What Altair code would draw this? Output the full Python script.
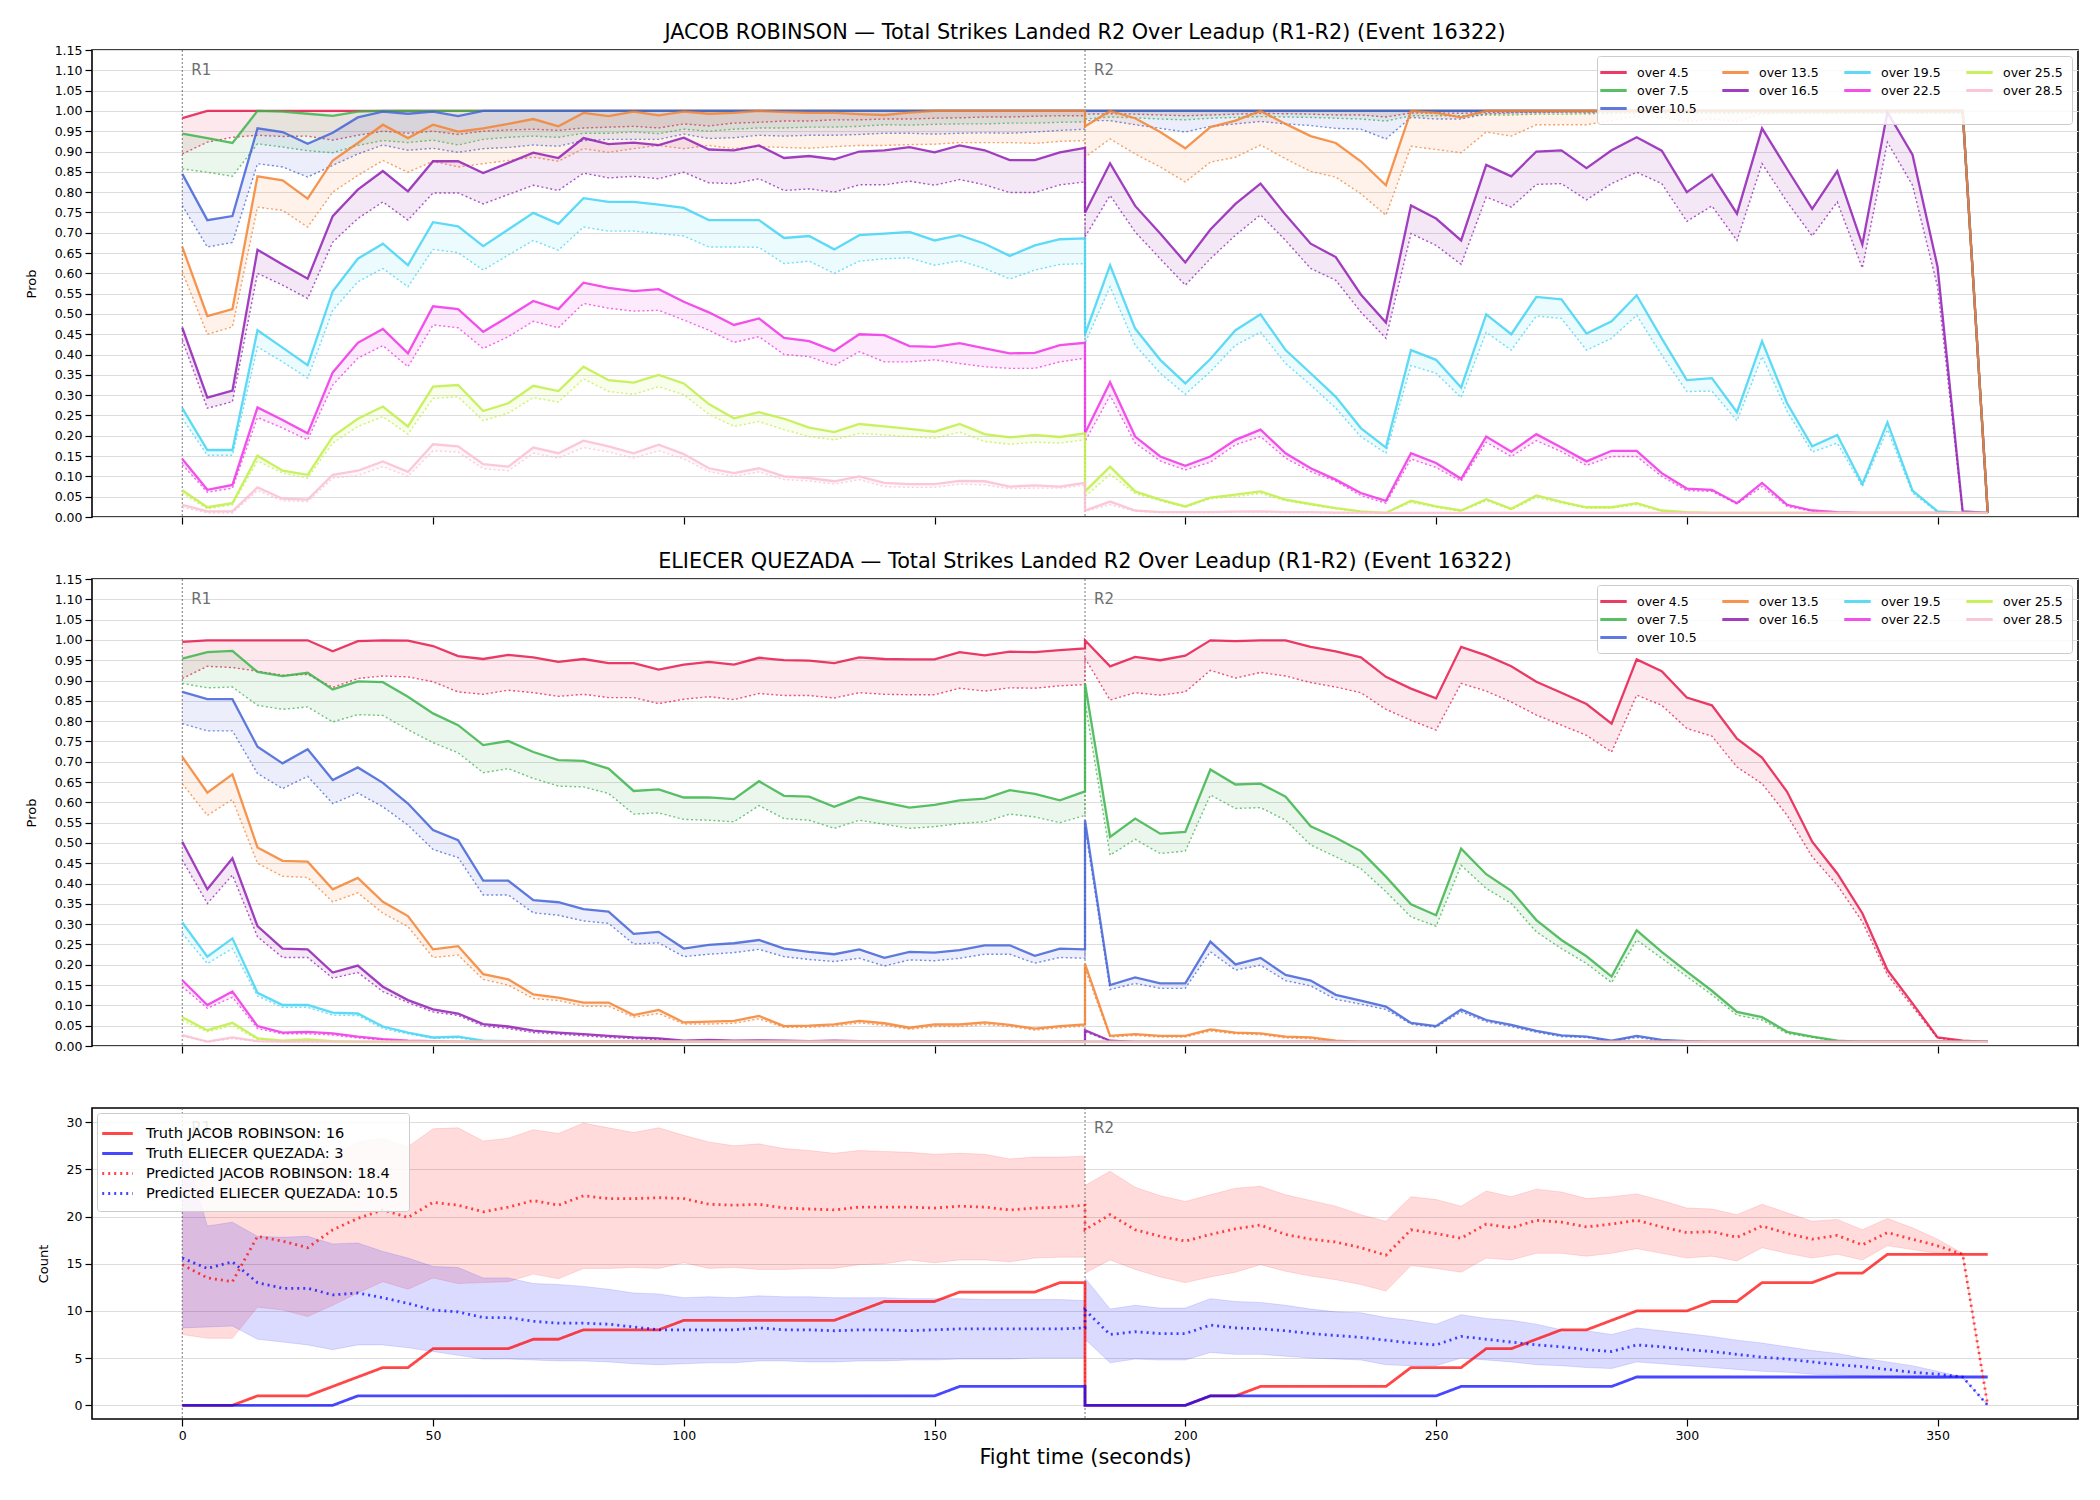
import altair as alt
import pandas as pd

# ---------------- time grid (5-second samples, R1 then R2) ----------------
T_R1 = list(range(0, 181, 5))
T_R2 = list(range(180, 361, 5))
T_ALL = T_R1 + T_R2
ROUND = ["R1"] * len(T_R1) + ["R2"] * len(T_R2)

THRESHOLDS = ["over 4.5", "over 7.5", "over 10.5", "over 13.5", "over 16.5",
              "over 19.5", "over 22.5", "over 25.5", "over 28.5"]
THR_COLORS = ["#e6194b", "#3cb44b", "#4363d8", "#f58231", "#911eb4",
              "#42d4f4", "#f032e6", "#bfef45", "#fabed4"]
# domain order chosen so that the 4-column legend grid reads like matplotlib's
# column-first layout: (4.5, 13.5, 19.5, 25.5 / 7.5, 16.5, 22.5, 28.5 / 10.5)
LEGEND_ORDER = ["over 4.5", "over 25.5", "over 22.5", "over 13.5",
                "over 7.5", "over 28.5", "over 19.5", "over 16.5", "over 10.5"]

X_TICKS = [0, 50, 100, 150, 200, 250, 300, 350]
PROB_TICKS = [round(k * 0.05, 2) for k in range(24)]
COUNT_TICKS = [0, 5, 10, 15, 20, 25, 30]

# ---------------- JACOB ROBINSON probabilities (solid / dotted) ----------------
JR_S45 = [0.982] + [1.0] * 36 + [1.0] * 36 + [0.01]
JR_D45 = [0.894, 0.923, 0.935, 0.940, 0.937, 0.938, 0.928, 0.940, 0.950, 0.945, 0.950, 0.942, 0.950,
          0.953, 0.955, 0.952, 0.958, 0.960, 0.962, 0.958, 0.968, 0.963, 0.970, 0.972, 0.975, 0.975,
          0.978, 0.978, 0.980, 0.980, 0.982, 0.983, 0.985, 0.985, 0.987, 0.988, 0.988,
          0.992, 0.993, 0.992, 0.990, 0.988, 0.990, 0.992, 0.994, 0.993, 0.992, 0.990, 0.990, 0.985,
          0.995, 0.995, 0.994, 0.996, 0.996, 0.997, 0.997, 0.997] + [0.998] * 15 + [0.01]
JR_S75 = [0.944, 0.933, 0.921, 1.0, 0.998, 0.993, 0.988, 0.998] + [1.0] * 29 + [1.0] * 36 + [0.01]
JR_D75 = [0.857, 0.849, 0.839, 0.919, 0.911, 0.902, 0.897, 0.915, 0.927, 0.922, 0.928, 0.916, 0.930,
          0.935, 0.938, 0.935, 0.945, 0.945, 0.948, 0.944, 0.955, 0.950, 0.955, 0.958, 0.958, 0.960,
          0.960, 0.962, 0.966, 0.965, 0.967, 0.968, 0.968, 0.970, 0.970, 0.972, 0.973,
          0.980, 0.985, 0.983, 0.980, 0.978, 0.982, 0.984, 0.986, 0.985, 0.984, 0.982, 0.980, 0.975,
          0.988, 0.988, 0.988, 0.990, 0.990, 0.992, 0.992, 0.993, 0.994] + [0.995] * 14 + [0.01]
JR_S105 = [0.845, 0.731, 0.741, 0.957, 0.948, 0.919, 0.946, 0.984, 0.998, 0.993, 0.998, 0.987] \
    + [1.0] * 25 + [1.0] * 36 + [0.01]
JR_D105 = [0.767, 0.665, 0.676, 0.870, 0.862, 0.837, 0.866, 0.894, 0.916, 0.903, 0.908, 0.898, 0.907,
           0.910, 0.916, 0.913, 0.927, 0.930, 0.930, 0.930, 0.943, 0.932, 0.934, 0.940, 0.938, 0.940,
           0.940, 0.942, 0.945, 0.945, 0.943, 0.945, 0.946, 0.945, 0.948, 0.952, 0.955,
           0.976, 0.976, 0.966, 0.957, 0.948, 0.962, 0.968, 0.974, 0.968, 0.964, 0.957, 0.955, 0.931,
           0.984, 0.980, 0.980, 0.993, 0.995, 0.996, 0.997, 0.997] + [0.998] * 15 + [0.01]
JR_S135 = [0.665, 0.495, 0.512, 0.839, 0.829, 0.784, 0.878, 0.921, 0.966, 0.933, 0.966, 0.949, 0.957,
           0.968, 0.980, 0.962, 0.995, 0.987, 0.998, 0.989, 0.998, 0.993, 0.995, 1.0, 0.997, 0.995,
           0.995, 0.992, 0.990, 0.996] + [1.0] * 7 \
    + [0.962, 1.0, 0.982, 0.948, 0.908, 0.960, 0.976, 1.0, 0.968, 0.938, 0.921, 0.876, 0.817,
       1.0, 0.995, 0.984, 1.0] + [1.0] * 19 + [0.01]
JR_D135 = [0.604, 0.450, 0.468, 0.763, 0.755, 0.714, 0.800, 0.841, 0.878, 0.849, 0.876, 0.862, 0.870,
           0.878, 0.886, 0.876, 0.907, 0.898, 0.907, 0.915, 0.907, 0.915, 0.907, 0.912, 0.910, 0.908,
           0.912, 0.915, 0.915, 0.917, 0.918, 0.922, 0.922, 0.922, 0.920, 0.925, 0.927,
           0.886, 0.931, 0.894, 0.862, 0.825, 0.874, 0.886, 0.916, 0.882, 0.851, 0.837, 0.796, 0.743,
           0.913, 0.905, 0.897, 0.948, 0.938, 0.966, 0.966, 0.966, 0.976, 0.987, 0.984, 0.974, 0.980,
           0.974, 0.993, 0.995, 0.995, 0.995, 0.996, 0.996, 0.996, 0.996, 0.996, 0.01]
JR_S165 = [0.466, 0.294, 0.311, 0.658, 0.622, 0.587, 0.741, 0.806, 0.852, 0.802, 0.876, 0.876, 0.847,
           0.872, 0.897, 0.884, 0.933, 0.918, 0.922, 0.916, 0.934, 0.905, 0.903, 0.915, 0.884, 0.889,
           0.881, 0.900, 0.903, 0.911, 0.898, 0.915, 0.903, 0.879, 0.879, 0.898, 0.909,
           0.749, 0.871, 0.766, 0.698, 0.627, 0.708, 0.771, 0.821, 0.744, 0.673, 0.640, 0.548, 0.479,
           0.767, 0.735, 0.681, 0.867, 0.839, 0.900, 0.903, 0.859, 0.903, 0.935, 0.902, 0.800, 0.843,
           0.747, 0.957, 0.857, 0.759, 0.852, 0.671, 0.997, 0.892, 0.616, 0.014, 0.01]
JR_D165 = [0.436, 0.268, 0.284, 0.600, 0.571, 0.538, 0.677, 0.735, 0.776, 0.731, 0.798, 0.798, 0.771,
           0.794, 0.817, 0.804, 0.847, 0.835, 0.839, 0.833, 0.849, 0.823, 0.821, 0.833, 0.804, 0.808,
           0.800, 0.818, 0.818, 0.827, 0.817, 0.831, 0.818, 0.799, 0.799, 0.818, 0.825,
           0.690, 0.792, 0.702, 0.636, 0.571, 0.636, 0.694, 0.744, 0.681, 0.612, 0.583, 0.505, 0.440,
           0.698, 0.669, 0.622, 0.788, 0.763, 0.819, 0.821, 0.781, 0.821, 0.849, 0.821, 0.728, 0.766,
           0.681, 0.870, 0.776, 0.692, 0.776, 0.613, 0.923, 0.817, 0.567, 0.012, 0.01]
JR_S195 = [0.268, 0.165, 0.165, 0.460, 0.417, 0.374, 0.556, 0.636, 0.673, 0.620, 0.726, 0.716, 0.667,
           0.708, 0.749, 0.722, 0.785, 0.776, 0.776, 0.769, 0.761, 0.731, 0.731, 0.731, 0.687, 0.692,
           0.659, 0.694, 0.698, 0.702, 0.681, 0.694, 0.673, 0.643, 0.669, 0.684, 0.686,
           0.450, 0.620, 0.464, 0.387, 0.329, 0.389, 0.460, 0.499, 0.411, 0.354, 0.296, 0.219, 0.171,
           0.411, 0.387, 0.319, 0.499, 0.450, 0.542, 0.536, 0.452, 0.482, 0.546, 0.440, 0.337, 0.342,
           0.258, 0.433, 0.280, 0.174, 0.202, 0.081, 0.233, 0.065, 0.014, 0.01, 0.01]
JR_D195 = [0.243, 0.152, 0.152, 0.419, 0.382, 0.342, 0.509, 0.579, 0.612, 0.567, 0.659, 0.651, 0.608,
           0.645, 0.681, 0.657, 0.714, 0.704, 0.704, 0.698, 0.692, 0.665, 0.665, 0.664, 0.624, 0.630,
           0.600, 0.630, 0.636, 0.638, 0.620, 0.631, 0.612, 0.586, 0.608, 0.622, 0.624,
           0.428, 0.567, 0.423, 0.354, 0.302, 0.358, 0.423, 0.455, 0.378, 0.325, 0.268, 0.198, 0.157,
           0.373, 0.354, 0.294, 0.455, 0.411, 0.495, 0.489, 0.411, 0.440, 0.497, 0.399, 0.309, 0.310,
           0.237, 0.395, 0.260, 0.160, 0.182, 0.075, 0.215, 0.059, 0.012, 0.01, 0.01]
JR_S225 = [0.143, 0.067, 0.079, 0.270, 0.239, 0.206, 0.356, 0.429, 0.463, 0.403, 0.519, 0.512, 0.456,
           0.493, 0.532, 0.512, 0.577, 0.564, 0.556, 0.561, 0.530, 0.504, 0.473, 0.489, 0.441, 0.433,
           0.409, 0.450, 0.448, 0.421, 0.419, 0.428, 0.415, 0.403, 0.404, 0.423, 0.429,
           0.206, 0.332, 0.198, 0.149, 0.126, 0.149, 0.190, 0.215, 0.157, 0.120, 0.092, 0.059, 0.040,
           0.157, 0.133, 0.094, 0.198, 0.161, 0.204, 0.171, 0.137, 0.163, 0.163, 0.108, 0.070, 0.067,
           0.034, 0.084, 0.030, 0.016, 0.012, 0.01, 0.01, 0.01, 0.01, 0.01, 0.01]
JR_D225 = [0.129, 0.061, 0.071, 0.245, 0.219, 0.190, 0.325, 0.391, 0.422, 0.370, 0.473, 0.466, 0.415,
           0.444, 0.482, 0.466, 0.526, 0.514, 0.507, 0.509, 0.485, 0.460, 0.430, 0.444, 0.400, 0.395,
           0.373, 0.407, 0.382, 0.382, 0.387, 0.378, 0.370, 0.366, 0.366, 0.382, 0.391,
           0.186, 0.299, 0.182, 0.138, 0.116, 0.135, 0.178, 0.198, 0.145, 0.112, 0.088, 0.053, 0.034,
           0.143, 0.122, 0.088, 0.184, 0.149, 0.188, 0.161, 0.127, 0.149, 0.149, 0.100, 0.065, 0.063,
           0.032, 0.075, 0.026, 0.014, 0.011, 0.01, 0.01, 0.01, 0.01, 0.01, 0.01]
JR_S255 = [0.066, 0.024, 0.034, 0.151, 0.114, 0.104, 0.198, 0.242, 0.272, 0.223, 0.321, 0.325, 0.261,
           0.280, 0.323, 0.310, 0.370, 0.337, 0.331, 0.350, 0.329, 0.278, 0.243, 0.258, 0.242, 0.220,
           0.209, 0.229, 0.223, 0.217, 0.210, 0.229, 0.204, 0.196, 0.202, 0.197, 0.206,
           0.063, 0.124, 0.063, 0.043, 0.026, 0.048, 0.055, 0.063, 0.043, 0.032, 0.022, 0.014, 0.010,
           0.040, 0.026, 0.016, 0.044, 0.020, 0.053, 0.037, 0.024, 0.024, 0.034, 0.016, 0.012] + [0.01] * 12
JR_D255 = [0.059, 0.020, 0.030, 0.138, 0.108, 0.096, 0.182, 0.223, 0.247, 0.204, 0.292, 0.296, 0.237,
           0.256, 0.294, 0.283, 0.340, 0.309, 0.302, 0.321, 0.301, 0.253, 0.223, 0.235, 0.215, 0.198,
           0.190, 0.206, 0.202, 0.198, 0.194, 0.209, 0.186, 0.179, 0.184, 0.182, 0.190,
           0.050, 0.105, 0.058, 0.040, 0.024, 0.045, 0.050, 0.058, 0.040, 0.030, 0.020, 0.013, 0.010,
           0.036, 0.024, 0.014, 0.040, 0.018, 0.048, 0.034, 0.022, 0.022, 0.030, 0.014, 0.011] + [0.01] * 12
JR_S285 = [0.030, 0.014, 0.014, 0.073, 0.045, 0.043, 0.104, 0.114, 0.137, 0.111, 0.179, 0.174, 0.130,
           0.124, 0.171, 0.157, 0.188, 0.174, 0.157, 0.178, 0.155, 0.120, 0.108, 0.120, 0.100, 0.096,
           0.088, 0.100, 0.084, 0.081, 0.081, 0.089, 0.088, 0.075, 0.078, 0.075, 0.084,
           0.016, 0.038, 0.016, 0.012, 0.012, 0.012, 0.013, 0.014, 0.012, 0.012, 0.011, 0.011] + [0.01] * 25
JR_D285 = [0.024, 0.010, 0.010, 0.065, 0.040, 0.038, 0.096, 0.102, 0.124, 0.100, 0.163, 0.160, 0.119,
           0.114, 0.157, 0.145, 0.171, 0.160, 0.145, 0.163, 0.143, 0.112, 0.100, 0.111, 0.092, 0.089,
           0.081, 0.092, 0.075, 0.073, 0.073, 0.081, 0.079, 0.070, 0.071, 0.071, 0.078,
           0.014, 0.030, 0.014, 0.011, 0.011, 0.011, 0.012, 0.012, 0.011, 0.011, 0.010, 0.010] + [0.01] * 25

# ---------------- ELIECER QUEZADA probabilities (solid / dotted) ----------------
EQ_S45 = [0.995, 0.999, 0.999, 0.999, 0.999, 0.999, 0.972, 0.997, 0.999, 0.998, 0.985, 0.960, 0.953,
          0.963, 0.957, 0.946, 0.953, 0.943, 0.943, 0.927, 0.939, 0.946, 0.939, 0.956, 0.950, 0.949,
          0.943, 0.957, 0.953, 0.952, 0.952, 0.970, 0.962, 0.971, 0.970, 0.975, 0.979,
          0.999, 0.935, 0.958, 0.950, 0.961, 0.999, 0.997, 0.999, 0.999, 0.983, 0.972, 0.957, 0.909,
          0.880, 0.856, 0.983, 0.962, 0.935, 0.897, 0.870, 0.842, 0.794, 0.952, 0.923, 0.858, 0.839,
          0.757, 0.710, 0.626, 0.503, 0.425, 0.327, 0.187, 0.105, 0.021, 0.013, 0.01]
EQ_D45 = [0.905, 0.935, 0.932, 0.923, 0.913, 0.915, 0.883, 0.905, 0.911, 0.909, 0.897, 0.872, 0.866,
          0.876, 0.870, 0.861, 0.866, 0.858, 0.858, 0.843, 0.854, 0.860, 0.853, 0.868, 0.863, 0.863,
          0.857, 0.870, 0.866, 0.865, 0.865, 0.881, 0.874, 0.882, 0.881, 0.887, 0.890,
          0.955, 0.852, 0.870, 0.864, 0.872, 0.925, 0.906, 0.920, 0.911, 0.895, 0.884, 0.870, 0.829,
          0.802, 0.778, 0.893, 0.874, 0.847, 0.815, 0.790, 0.765, 0.724, 0.864, 0.839, 0.782, 0.763,
          0.687, 0.646, 0.568, 0.466, 0.396, 0.306, 0.175, 0.097, 0.019, 0.012, 0.01]
EQ_S75 = [0.954, 0.970, 0.973, 0.921, 0.911, 0.919, 0.878, 0.898, 0.896, 0.860, 0.819, 0.790, 0.741,
          0.751, 0.724, 0.704, 0.702, 0.683, 0.628, 0.632, 0.612, 0.612, 0.608, 0.652, 0.616, 0.614,
          0.589, 0.613, 0.600, 0.587, 0.594, 0.605, 0.609, 0.630, 0.621, 0.605, 0.627,
          0.893, 0.515, 0.560, 0.523, 0.527, 0.681, 0.644, 0.646, 0.614, 0.541, 0.513, 0.480, 0.417,
          0.349, 0.322, 0.486, 0.423, 0.382, 0.310, 0.261, 0.221, 0.171, 0.285, 0.232, 0.183, 0.136,
          0.084, 0.071, 0.035, 0.023, 0.013, 0.01, 0.01, 0.01, 0.01, 0.01, 0.01]
EQ_D75 = [0.893, 0.882, 0.884, 0.839, 0.829, 0.835, 0.798, 0.816, 0.814, 0.779, 0.747, 0.722, 0.673,
          0.683, 0.659, 0.640, 0.638, 0.622, 0.571, 0.574, 0.558, 0.556, 0.552, 0.592, 0.560, 0.556,
          0.536, 0.556, 0.546, 0.536, 0.540, 0.548, 0.552, 0.571, 0.564, 0.550, 0.568,
          0.847, 0.470, 0.509, 0.474, 0.480, 0.618, 0.585, 0.587, 0.556, 0.495, 0.466, 0.437, 0.380,
          0.318, 0.295, 0.445, 0.388, 0.351, 0.281, 0.240, 0.203, 0.156, 0.261, 0.216, 0.171, 0.126,
          0.076, 0.064, 0.031, 0.021, 0.012, 0.01, 0.01, 0.01, 0.01, 0.01, 0.01]
EQ_S105 = [0.872, 0.854, 0.854, 0.737, 0.696, 0.731, 0.655, 0.686, 0.648, 0.597, 0.532, 0.507, 0.407,
           0.407, 0.359, 0.354, 0.337, 0.331, 0.276, 0.281, 0.240, 0.249, 0.253, 0.261, 0.240, 0.232,
           0.226, 0.238, 0.217, 0.232, 0.230, 0.236, 0.248, 0.248, 0.222, 0.240, 0.238,
           0.556, 0.150, 0.169, 0.154, 0.154, 0.257, 0.201, 0.217, 0.175, 0.161, 0.126, 0.112, 0.097,
           0.057, 0.049, 0.090, 0.064, 0.052, 0.037, 0.026, 0.023, 0.013, 0.025, 0.015, 0.012] + [0.01] * 12
EQ_D105 = [0.794, 0.776, 0.776, 0.671, 0.634, 0.664, 0.597, 0.623, 0.589, 0.544, 0.484, 0.464, 0.372,
           0.372, 0.328, 0.322, 0.308, 0.302, 0.251, 0.254, 0.220, 0.226, 0.230, 0.238, 0.220, 0.213,
           0.208, 0.216, 0.197, 0.212, 0.210, 0.216, 0.226, 0.226, 0.204, 0.218, 0.216,
           0.540, 0.139, 0.154, 0.142, 0.142, 0.232, 0.187, 0.199, 0.161, 0.148, 0.115, 0.103, 0.090,
           0.054, 0.046, 0.084, 0.060, 0.048, 0.034, 0.023, 0.021, 0.012, 0.021, 0.013, 0.011] + [0.01] * 12
EQ_S135 = [0.712, 0.624, 0.669, 0.489, 0.456, 0.454, 0.386, 0.414, 0.355, 0.320, 0.238, 0.246, 0.177,
           0.164, 0.127, 0.119, 0.107, 0.107, 0.076, 0.089, 0.058, 0.060, 0.062, 0.074, 0.049, 0.050,
           0.053, 0.062, 0.056, 0.045, 0.053, 0.053, 0.058, 0.052, 0.043, 0.049, 0.053,
           0.202, 0.025, 0.029, 0.025, 0.025, 0.041, 0.033, 0.031, 0.023, 0.021, 0.013] + [0.01] * 26
EQ_D135 = [0.646, 0.568, 0.607, 0.450, 0.418, 0.415, 0.355, 0.377, 0.327, 0.294, 0.218, 0.224, 0.164,
           0.150, 0.117, 0.112, 0.098, 0.098, 0.071, 0.080, 0.054, 0.054, 0.056, 0.067, 0.046, 0.046,
           0.049, 0.057, 0.051, 0.041, 0.048, 0.048, 0.053, 0.048, 0.039, 0.045, 0.049,
           0.190, 0.022, 0.026, 0.022, 0.022, 0.037, 0.030, 0.028, 0.020, 0.018, 0.012] + [0.01] * 26
EQ_S165 = [0.503, 0.386, 0.462, 0.295, 0.240, 0.238, 0.181, 0.198, 0.146, 0.113, 0.090, 0.080, 0.054,
           0.048, 0.038, 0.033, 0.029, 0.025, 0.021, 0.019, 0.013, 0.015, 0.013, 0.014, 0.013, 0.012,
           0.013, 0.012, 0.012, 0.012, 0.012, 0.012, 0.012, 0.012, 0.011, 0.011, 0.012,
           0.039, 0.013] + [0.01] * 35
EQ_D165 = [0.458, 0.351, 0.421, 0.269, 0.218, 0.218, 0.167, 0.181, 0.134, 0.107, 0.084, 0.075, 0.049,
           0.043, 0.033, 0.029, 0.025, 0.021, 0.018, 0.016, 0.012, 0.013, 0.012, 0.012] + [0.011] * 13 \
    + [0.035, 0.012] + [0.01] * 35
EQ_S195 = [0.304, 0.220, 0.265, 0.131, 0.101, 0.101, 0.082, 0.080, 0.048, 0.033, 0.021, 0.023, 0.013,
           0.012, 0.012] + [0.011] * 22 + [0.01] * 37
EQ_D195 = [0.277, 0.203, 0.240, 0.123, 0.095, 0.095, 0.076, 0.075, 0.043, 0.030, 0.019, 0.020,
           0.012] + [0.011] * 24 + [0.01] * 37
EQ_S225 = [0.162, 0.101, 0.134, 0.049, 0.033, 0.035, 0.031, 0.023, 0.017, 0.013, 0.012] + [0.011] * 26 + [0.01] * 37
EQ_D225 = [0.146, 0.093, 0.120, 0.043, 0.030, 0.030, 0.027, 0.020, 0.015, 0.012] + [0.011] * 27 + [0.01] * 37
EQ_S255 = [0.071, 0.039, 0.057, 0.019, 0.013, 0.016, 0.012] + [0.011] * 30 + [0.01] * 37
EQ_D255 = [0.063, 0.035, 0.050, 0.016, 0.012, 0.013, 0.011] + [0.011] * 30 + [0.01] * 37
EQ_S285 = [0.027, 0.011, 0.021, 0.012] + [0.011] * 33 + [0.01] * 37
EQ_D285 = [0.024, 0.010, 0.018, 0.011] + [0.010] * 33 + [0.01] * 37

# ---------------- counts panel ----------------
TRUTH_JR = [0, 0, 0, 1, 1, 1, 2, 3, 4, 4, 6, 6, 6, 6, 7, 7, 8, 8, 8, 8] + [9] * 7 \
    + [10, 11, 11, 11, 12, 12, 12, 12, 13, 13] \
    + [0, 0, 0, 0, 0, 1, 1, 2, 2, 2, 2, 2, 2, 4, 4, 4, 6, 6, 7, 8, 8, 9, 10, 10, 10, 11, 11,
       13, 13, 13, 14, 14, 16, 16, 16, 16, 16]
TRUTH_EQ = [0] * 7 + [1] * 24 + [2] * 6 + [0] * 5 + [1] * 10 + [2] * 7 + [3] * 15
PRED_JR = [14.9, 13.5, 13.1, 17.9, 17.4, 16.7, 18.6, 19.8, 20.7, 19.9, 21.5, 21.2, 20.5, 21.0, 21.7,
           21.2, 22.2, 21.9, 21.9, 22.0, 21.9, 21.3, 21.2, 21.3, 20.9, 20.8, 20.7, 21.0, 21.0, 21.0,
           20.9, 21.1, 21.0, 20.7, 20.9, 21.0, 21.2,
           18.6, 20.2, 18.6, 17.9, 17.4, 18.1, 18.7, 19.1, 18.1, 17.6, 17.3, 16.7, 15.9, 18.6, 18.2,
           17.7, 19.2, 18.8, 19.6, 19.4, 18.9, 19.2, 19.6, 18.9, 18.3, 18.4, 17.8, 19.0, 18.2, 17.6,
           18.0, 17.0, 18.3, 17.6, 16.9, 16.0, 0.0]
JR_HI = [24.0, 23.9, 24.0, 25.3, 24.9, 24.8, 26.5, 27.9, 28.3, 27.4, 29.3, 29.4, 28.0, 28.3, 29.2,
         28.8, 29.9, 29.4, 28.9, 29.4, 28.6, 27.9, 27.5, 27.7, 27.2, 27.0, 26.7, 27.0, 26.9, 26.8,
         26.6, 26.7, 26.6, 26.1, 26.3, 26.3, 26.4,
         23.3, 24.8, 23.1, 22.2, 21.6, 22.3, 23.0, 23.2, 22.3, 21.7, 21.1, 20.2, 19.5, 22.1, 21.8,
         21.1, 22.7, 22.1, 22.9, 22.6, 21.9, 22.1, 22.4, 21.7, 20.9, 20.8, 20.2, 21.3, 20.4, 19.5,
         19.7, 18.6, 19.8, 18.8, 17.6, 16.1, 0.0]
JR_LO = [7.5, 7.1, 7.1, 10.4, 10.1, 9.4, 10.6, 11.9, 13.1, 12.3, 13.5, 12.9, 13.0, 13.1, 13.9,
         13.4, 14.5, 14.5, 14.6, 14.5, 15.1, 14.5, 14.6, 14.4, 14.4, 14.5, 14.5, 14.9, 15.0, 15.4,
         15.1, 15.4, 15.4, 15.2, 15.6, 15.7, 15.7,
         14.0, 15.4, 14.4, 13.6, 13.0, 13.6, 14.1, 14.9, 14.2, 13.7, 13.3, 12.8, 12.1, 14.8, 14.5,
         14.1, 15.6, 15.4, 16.1, 16.1, 15.8, 16.1, 16.6, 16.1, 15.6, 15.8, 15.3, 16.7, 16.1, 15.6,
         16.0, 15.4, 16.9, 16.5, 16.1, 16.0, 0.0]
PRED_EQ = [15.6, 14.5, 15.2, 13.0, 12.4, 12.4, 11.7, 11.9, 11.4, 10.8, 10.1, 9.9, 9.3, 9.3, 8.9,
           8.7, 8.7, 8.6, 8.3, 8.0, 8.0, 8.0, 8.0, 8.2, 8.0, 8.0, 7.9, 8.0, 8.0, 7.9, 8.0, 8.1, 8.1,
           8.1, 8.1, 8.1, 8.2,
           10.1, 7.5, 7.8, 7.6, 7.6, 8.5, 8.2, 8.1, 7.9, 7.6, 7.4, 7.2, 6.9, 6.6, 6.4, 7.3, 7.0, 6.7,
           6.4, 6.2, 5.9, 5.7, 6.4, 6.2, 5.9, 5.7, 5.4, 5.1, 4.9, 4.6, 4.3, 4.1, 3.8, 3.5, 3.3, 3.0, 0.0]
EQ_HI = [28.0, 19.0, 19.4, 17.9, 17.8, 17.9, 17.1, 17.2, 16.3, 15.6, 14.7, 14.6, 13.5, 13.5, 12.9,
         12.8, 12.6, 12.3, 11.9, 11.8, 11.4, 11.5, 11.4, 11.6, 11.5, 11.5, 11.4, 11.4, 11.4, 11.3,
         11.3, 11.3, 11.2, 11.2, 11.2, 11.2, 11.1,
         13.5, 10.2, 10.6, 10.3, 10.3, 11.3, 11.0, 10.9, 10.6, 10.2, 9.9, 9.8, 9.3, 9.0, 8.6, 9.6,
         9.2, 9.0, 8.6, 8.0, 7.9, 7.5, 8.2, 7.9, 7.6, 7.3, 6.9, 6.6, 6.2, 5.8, 5.5, 5.0, 4.6, 4.2,
         3.6, 3.0, 0.0]
EQ_LO = [8.2, 8.3, 8.4, 7.0, 6.7, 6.4, 5.9, 6.4, 6.4, 6.1, 5.7, 5.3, 4.9, 4.9, 4.8, 4.7, 4.7, 4.6,
         4.4, 4.3, 4.4, 4.5, 4.5, 4.7, 4.7, 4.6, 4.6, 4.7, 4.7, 4.8, 4.8, 4.9, 4.9, 4.9, 5.0, 5.0, 5.0,
         7.0, 4.5, 4.9, 4.8, 4.8, 5.6, 5.4, 5.4, 5.2, 5.0, 4.9, 4.8, 4.3, 4.2, 4.2, 5.0, 4.8, 4.6,
         4.3, 4.2, 4.0, 3.9, 4.6, 4.4, 4.2, 4.0, 3.8, 3.6, 3.5, 3.3, 3.2, 3.1, 3.0, 2.9, 2.85, 2.9, 0.0]

SERIES = ["Truth JACOB ROBINSON: 16", "Truth ELIECER QUEZADA: 3",
          "Predicted JACOB ROBINSON: 18.4", "Predicted ELIECER QUEZADA: 10.5"]

FONT = "DejaVu Sans"
PLOT_W = 1986
LEG_COLORS = [THR_COLORS[THRESHOLDS.index(t)] for t in LEGEND_ORDER]
XS = alt.Scale(domain=[-18, 378], nice=False, zero=False)
MARKS_DF = pd.DataFrame({"t": [0, 180], "lab": ["R1", "R2"]})
IND = "independent"


def round_marks(x_axis):
    rule = alt.Chart(MARKS_DF).mark_rule(color="#555555", strokeDash=[2, 2], strokeWidth=1,
                                         opacity=0.8).encode(x=alt.X("t:Q", scale=XS, axis=x_axis))
    text = alt.Chart(MARKS_DF).mark_text(align="left", baseline="middle", dx=9, fontSize=15,
                                         font=FONT, color="#555555", opacity=0.85).encode(
        x=alt.X("t:Q", scale=XS, axis=x_axis), y=alt.value(20), text="lab:N")
    return rule, text


def prob_panel(solid_lists, dotted_lists, title):
    rows = []
    for thr, s, d in zip(THRESHOLDS, solid_lists, dotted_lists):
        assert len(s) == 74 and len(d) == 74, (title, thr, len(s), len(d))
        for i, (t, r) in enumerate(zip(T_ALL, ROUND)):
            rows.append({"t": t, "i": i, "rnd": r, "thr": thr, "solid": s[i], "dotted": d[i]})
    df = pd.DataFrame(rows)
    xax = alt.Axis(values=X_TICKS, labels=False, title=None, grid=False)
    ys = alt.Scale(domain=[0, 1.15], nice=False, zero=False)
    yax = alt.Axis(values=PROB_TICKS, format=".2f", title="Prob", grid=True)
    x = alt.X("t:Q", scale=XS, axis=xax)
    leg = alt.Legend(title=None, orient="top-right", columns=4, symbolType="M-2.2,0L2.2,0",
                     symbolSize=144, symbolStrokeWidth=3, labelOffset=16,
                     labelFontSize=12.5, labelFont=FONT, labelColor="black",
                     fillColor="rgba(255,255,255,0.85)", strokeColor="#cccccc", padding=9,
                     cornerRadius=3, rowPadding=4, columnPadding=19, offset=6, labelLimit=200)
    cscale = alt.Scale(domain=LEGEND_ORDER, range=LEG_COLORS)
    under = []
    for thr, col in zip(THRESHOLDS, THR_COLORS):
        sub = df[df["thr"] == thr]
        under.append(alt.Chart(sub).mark_area(color=col, opacity=0.1).encode(
            x=x, y=alt.Y("solid:Q", scale=ys, axis=yax), y2="dotted:Q", detail="rnd:N"))
        under.append(alt.Chart(sub).mark_line(color=col, strokeWidth=1.4, opacity=0.75,
                                              strokeDash=[2, 2.5]).encode(
            x=x, y=alt.Y("dotted:Q", scale=ys, axis=yax), order="i:Q"))
    solid = alt.Chart(df).mark_line(strokeWidth=2.3, opacity=0.85).encode(
        x=x, y=alt.Y("solid:Q", scale=ys, axis=yax),
        color=alt.Color("thr:N", scale=cscale, legend=leg), detail="thr:N", order="i:Q")
    rule, text = round_marks(xax)
    return alt.layer(rule, *under, solid, text).properties(
        width=PLOT_W, height=467,
        title=alt.TitleParams(text=title, fontSize=20.8, font=FONT, fontWeight="normal",
                              anchor="middle", offset=0, color="black"))


def count_panel():
    band_rows, line_rows = [], []
    for who, lo, hi in (("JR", JR_LO, JR_HI), ("EQ", EQ_LO, EQ_HI)):
        assert len(lo) == 74 and len(hi) == 74
        for i, (t, r) in enumerate(zip(T_ALL, ROUND)):
            band_rows.append({"t": t, "i": i, "rnd": r, "who": who, "lo": lo[i], "hi": hi[i]})
    for name, vals in zip(SERIES, (TRUTH_JR, TRUTH_EQ, PRED_JR, PRED_EQ)):
        assert len(vals) == 74, name
        for i, t in enumerate(T_ALL):
            line_rows.append({"t": t, "i": i, "series": name, "val": vals[i]})
    dfb = pd.DataFrame(band_rows)
    dfl = pd.DataFrame(line_rows)
    xax = alt.Axis(values=X_TICKS, labels=True, title="Fight time (seconds)", grid=False,
                   titleFontSize=20.8, titlePadding=6, labelFontSize=12.5)
    ys = alt.Scale(domain=[-1.45, 31.5], nice=False, zero=False)
    yax = alt.Axis(values=COUNT_TICKS, title="Count", grid=True)
    x = alt.X("t:Q", scale=XS, axis=xax)
    layers = []
    for who, col in (("JR", "#ff0000"), ("EQ", "#0000ff")):
        sub = dfb[dfb["who"] == who]
        layers.append(alt.Chart(sub).mark_area(color=col, opacity=0.14).encode(
            x=x, y=alt.Y("lo:Q", scale=ys, axis=yax), y2="hi:Q", detail="rnd:N"))
        for edge in ("lo", "hi"):
            layers.append(alt.Chart(sub).mark_line(color=col, opacity=0.12, strokeWidth=1).encode(
                x=x, y=alt.Y(f"{edge}:Q", scale=ys, axis=yax), detail="rnd:N"))
    leg = alt.Legend(title=None, orient="top-left", offset=5, symbolType="M-1.7,0L1.7,0",
                     symbolSize=324, symbolStrokeWidth=3, labelOffset=18,
                     labelFontSize=14.6, labelFont=FONT, labelColor="black",
                     fillColor="rgba(255,255,255,0.85)", strokeColor="#cccccc", padding=10,
                     cornerRadius=3, rowPadding=2, labelLimit=400)
    lines = alt.Chart(dfl).mark_line(strokeWidth=2.8).encode(
        x=x, y=alt.Y("val:Q", scale=ys, axis=yax),
        color=alt.Color("series:N", scale=alt.Scale(domain=SERIES,
                                                    range=["#ff0000", "#0000ff", "#ff0000", "#0000ff"]),
                        legend=leg),
        strokeDash=alt.StrokeDash("series:N", scale=alt.Scale(domain=SERIES,
                                                              range=[[1, 0], [1, 0], [2, 4], [2, 4]]),
                                  legend=leg),
        opacity=alt.Opacity("series:N", scale=alt.Scale(domain=SERIES, range=[0.72, 0.72, 0.6, 0.6]),
                            legend=leg),
        detail="series:N", order="i:Q")
    rule, text = round_marks(xax)
    return alt.layer(*layers, rule, lines, text).properties(width=PLOT_W, height=311)


p1 = prob_panel([JR_S45, JR_S75, JR_S105, JR_S135, JR_S165, JR_S195, JR_S225, JR_S255, JR_S285],
                [JR_D45, JR_D75, JR_D105, JR_D135, JR_D165, JR_D195, JR_D225, JR_D255, JR_D285],
                "JACOB ROBINSON \u2014 Total Strikes Landed R2 Over Leadup (R1-R2) (Event 16322)")
p2 = prob_panel([EQ_S45, EQ_S75, EQ_S105, EQ_S135, EQ_S165, EQ_S195, EQ_S225, EQ_S255, EQ_S285],
                [EQ_D45, EQ_D75, EQ_D105, EQ_D135, EQ_D165, EQ_D195, EQ_D225, EQ_D255, EQ_D285],
                "ELIECER QUEZADA \u2014 Total Strikes Landed R2 Over Leadup (R1-R2) (Event 16322)")
p3 = count_panel()

top = alt.vconcat(p1, p2, spacing=24).resolve_scale(color=IND).resolve_legend(color=IND)

chart = alt.vconcat(top, p3, spacing=51).resolve_scale(
    color=IND, strokeDash=IND, opacity=IND
).resolve_legend(
    color=IND, strokeDash=IND, opacity=IND
).properties(
    padding={"left": 24, "top": 21, "right": 10, "bottom": 10},
    background="white",
).configure(font=FONT).configure_view(
    stroke="black", strokeWidth=1.6
).configure_axis(
    domain=False, labelFont=FONT, titleFont=FONT, labelFontSize=12.5, titleFontSize=13,
    titleFontWeight="normal", labelColor="black", titleColor="black", tickColor="black",
    tickSize=7, tickWidth=1.2, gridColor="#dddddd", gridWidth=1, labelPadding=3, titlePadding=16
)

chart.save("out.html", embed_options={"renderer": "svg", "actions": False})
